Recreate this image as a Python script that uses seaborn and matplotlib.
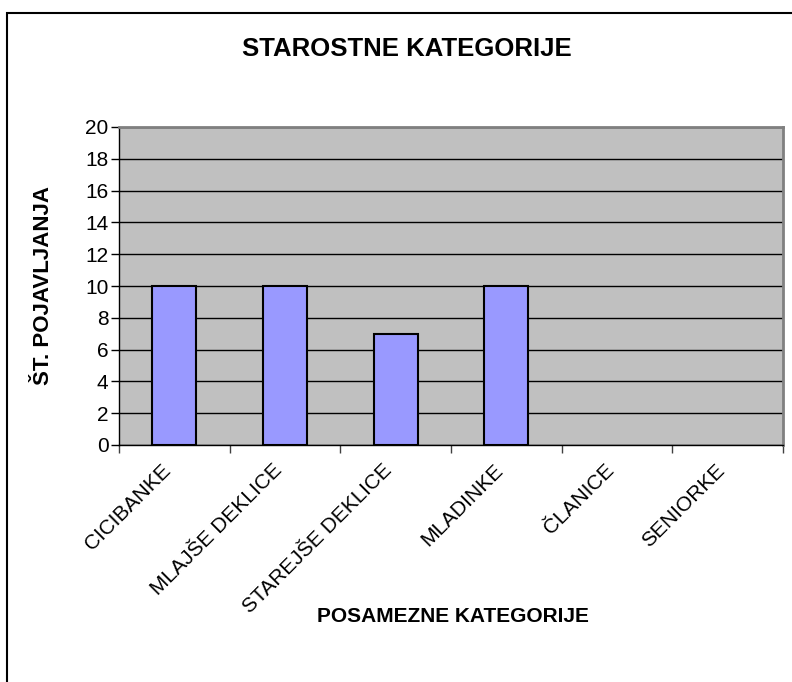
import matplotlib
matplotlib.use("Agg")
import matplotlib.pyplot as plt
import matplotlib.patches as patches
import matplotlib.transforms as mtransforms
import seaborn as sns
import pandas as pd
import numpy as np

# data
categories = ["CICIBANKE", "MLAJŠE DEKLICE", "STAREJŠE DEKLICE",
              "MLADINKE", "ČLANICE", "SENIORKE"]
counts = [10, 10, 7, 10, 0, 0]
y_ticks = list(range(0, 21, 2))

sns.set_style("white")
plt.rcParams['font.family'] = ['Liberation Sans', 'DejaVu Sans']
plt.rcParams['text.color'] = 'black'
plt.rcParams['xtick.color'] = 'black'
plt.rcParams['ytick.color'] = 'black'

W, H = 792, 682
fig = plt.figure(figsize=(W / 100, H / 100), dpi=100)
ax = fig.add_axes([119 / W, 1 - 445 / H, (783 - 119) / W, (445 - 127) / H])

df = pd.DataFrame({'kategorija': categories, 'st': counts})
sns.barplot(data=df, x='kategorija', y='st', color='#9999FF', saturation=1,
            edgecolor='black', linewidth=1.5, width=0.4, ax=ax, zorder=3)
# empty categories show no outline
for p in ax.patches:
    if p.get_height() == 0:
        p.set_linewidth(0)

ax.set_facecolor('#C0C0C0')
ax.set_xlim(-0.5, len(categories) - 0.5)
ax.set_ylim(0, 20)
ax.set_yticks(y_ticks)
ax.yaxis.grid(True, color='black', linewidth=1)
ax.set_axisbelow(True)

for s in ['top', 'right']:
    ax.spines[s].set_color('#808080')
    ax.spines[s].set_linewidth(2)
for s in ['left', 'bottom']:
    ax.spines[s].set_color('black')
    ax.spines[s].set_linewidth(1)

# ticks on category boundaries, labels at centres
ax.set_xticks(np.arange(len(categories)))
ax.set_xticklabels(categories, rotation=45, ha='right', va='top',
                   rotation_mode='anchor', fontsize=15)
ax.tick_params(axis='x', which='major', length=0, pad=11)
shift = mtransforms.ScaledTranslation(-13 / 100, 0, fig.dpi_scale_trans)
for lbl in ax.get_xticklabels():
    lbl.set_transform(lbl.get_transform() + shift)
ax.set_xticks(np.arange(-0.5, len(categories)), minor=True)
ax.tick_params(axis='x', which='minor', length=6, width=1, color='#404040',
               direction='out')
ax.tick_params(axis='y', length=6, width=1, color='black', direction='out',
               labelsize=15, pad=1.5)
ax.yaxis.set_ticks_position('left')
ax.xaxis.set_ticks_position('bottom')

ax.set_xlabel('')
ax.set_ylabel('')
fig.text(44 / W, 1 - 285 / H, 'ŠT. POJAVLJANJA', rotation=90, fontsize=16,
         fontweight='bold', ha='center', va='center')
fig.text(453 / W, 1 - 617 / H, 'POSAMEZNE KATEGORIJE', fontsize=15,
         fontweight='bold', ha='center', va='center')
fig.text(407 / W, 1 - 49 / H, 'STAROSTNE KATEGORIJE', fontsize=18.5,
         fontweight='bold', ha='center', va='center')

# chart area border (right and bottom fall outside the picture)
frame = patches.Rectangle((7 / W, -0.1), 2, 1 - 13 / H + 0.1, fill=False,
                          edgecolor='black', linewidth=1.5,
                          transform=fig.transFigure)
fig.add_artist(frame)

fig.savefig('out.png', dpi=100)
